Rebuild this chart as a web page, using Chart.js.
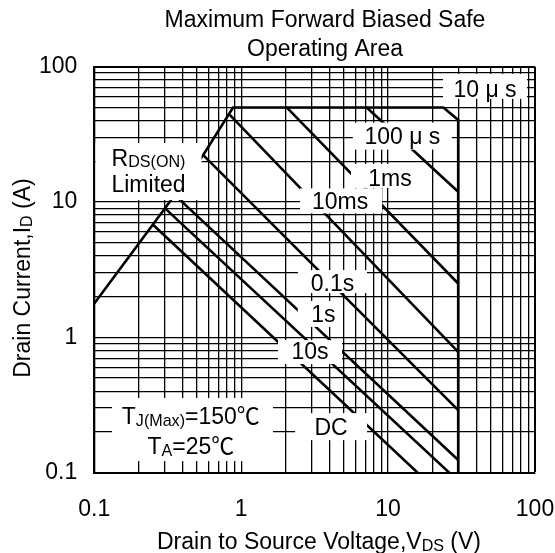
<!DOCTYPE html>
<html>
<head>
<meta charset="utf-8">
<script src="https://cdn.jsdelivr.net/npm/chart.js@4.4.1/dist/chart.umd.min.js"></script>
<style>
  html, body { margin: 0; padding: 0; background: #fff; }
  #wrap { width: 555px; height: 553px; }
</style>
</head>
<body>
<div id="wrap"><canvas id="soa" width="555" height="553"></canvas></div>
<script>
"use strict";

// Grid lines of both log axes (0.1 .. 100)
const gridValues = [0.1, 0.2, 0.3, 0.4, 0.5, 0.6, 0.7, 0.8, 0.9,
  1, 2, 3, 4, 5, 6, 7, 8, 9,
  10, 20, 30, 40, 50, 60, 70, 80, 90, 100];
const decadeValues = [0.1, 1, 10, 100];
const decadeLabels = ["0.1", "1", "10", "100"];

// Outer limit: RDS(on) line, 50 A ceiling, 10 us corner, 30 V wall
const limitV = [0.1, 0.31, 0.55, 0.88, 23.8, 30, 30];
const limitI = [1.78, 9.3, 22.2, 50, 50, 40.4, 0.1];

// Pulse lines (VDS in V, ID in A)
const us100V = [7.15, 30];
const us100I = [50, 11.9];
const ms1V = [2.04, 30];
const ms1I = [50, 2.5];
const ms10V = [0.83, 30];
const ms10I = [44.4, 0.78];
const s01V = [0.552, 30];
const s01I = [22.2, 0.29];
const s1V = [0.355, 30];
const s1I = [11.2, 0.124];
const s10V = [0.303, 26.1];
const s10I = [8.98, 0.1];
const dcV = [0.252, 15.9];
const dcI = [6.76, 0.1];

const series = [
  [limitV, limitI],
  [us100V, us100I],
  [ms1V, ms1I],
  [ms10V, ms10I],
  [s01V, s01I],
  [s1V, s1I],
  [s10V, s10I],
  [dcV, dcI],
];

const FONT = "'Liberation Sans', Arial, 'Noto Sans CJK JP', sans-serif";
const CJK_FONT = "'Noto Sans CJK JP', 'Liberation Sans', sans-serif";

// Labels on white boxes: anchor in data units, box = [w, h, dx, dy] in px
const notes = [
  { text: ["10 μ s"], at: [45.7, 69.2], box: [84, 25, 0, -2] },
  { text: ["100 μ s"], at: [12.5, 30.7], box: [99, 27, 0, 0] },
  { text: ["1ms"], at: [10.3, 15.2], box: [65, 24, -6.5, -1.5] },
  { text: ["10ms"], at: [4.71, 10.2], box: [82, 25, 1, 0] },
  { text: ["R_{DS(ON)}", "Limited"], at: [0.234, 21.3], gap: 26, box: [106, 57, 0, 14] },
  { text: ["0.1s"], at: [4.18, 2.54], box: [69, 23, 0, -1] },
  { text: ["1s"], at: [3.62, 1.49], box: [45, 26, -3, 0] },
  { text: ["10s"], at: [2.94, 0.792], box: [64, 24, 0, 1] },
  { text: ["DC"], at: [4.09, 0.219], box: [72, 27, 0, 0] },
  { text: ["T_{J(Max)}=150℃", "T_{A}=25℃"], at: [0.454, 0.262], gap: 30, box: [161, 63, 1.7, 13.5] },
];

// Split "T_{A}=25℃" into normal / subscript / CJK runs
function parseRuns(str) {
  const runs = [];
  str.split(/_\{([^}]*)\}/).forEach((t, i) => {
    if (i % 2 === 1) {
      runs.push({ t: t, sub: true });
      return;
    }
    t.split(/(℃)/).forEach((p) => {
      if (p !== "") runs.push({ t: p, sub: false, cjk: p === "℃" });
    });
  });
  return runs.filter((r) => r.t !== "");
}

function runFont(r, size) {
  if (r.cjk) return size + "px " + CJK_FONT;
  return (r.sub ? size * 0.7 : size) + "px " + FONT;
}

// Draw text with subscripts, centred on (cx, cy) at cap height
function drawRich(ctx, str, cx, cy, size) {
  const runs = parseRuns(str);
  let total = 0;
  for (const r of runs) {
    ctx.font = runFont(r, size);
    total += ctx.measureText(r.t).width;
  }
  let x = cx - total / 2;
  const base = cy + size * 0.358;
  ctx.textAlign = "left";
  ctx.textBaseline = "alphabetic";
  for (const r of runs) {
    ctx.font = runFont(r, size);
    ctx.fillText(r.t, x, r.sub ? base + size * 0.07 : base);
    x += ctx.measureText(r.t).width;
  }
}

const textPlugin = {
  id: "soaText",
  afterDatasetsDraw(chart) {
    const ctx = chart.ctx;
    const xs = chart.scales.x;
    const ys = chart.scales.y;
    ctx.save();
    ctx.fillStyle = "#000";

    // Boxed labels inside the plot
    for (const n of notes) {
      const cx = xs.getPixelForValue(n.at[0]);
      const cy = ys.getPixelForValue(n.at[1]);
      const [w, h, dx, dy] = n.box;
      ctx.fillStyle = "#fff";
      ctx.fillRect(cx + dx - w / 2, cy + dy - h / 2, w, h);
      ctx.fillStyle = "#000";
      n.text.forEach((line, i) => drawRich(ctx, line, cx, cy + i * (n.gap || 0), 23));
    }

    // Chart title
    drawRich(ctx, "Maximum Forward Biased Safe", 325, 18.7, 23);
    drawRich(ctx, "Operating Area", 325, 48, 23);

    // Axis titles
    drawRich(ctx, "Drain to Source Voltage,V_{DS} (V)", 319, 541, 23);
    ctx.translate(22, 278);
    ctx.rotate(-Math.PI / 2);
    drawRich(ctx, "Drain Current,I_{D} (A)", 0, 0, 23);
    ctx.restore();
  },
};

function setGridTicks(axis) {
  axis.ticks = gridValues.map((v) => ({ value: v }));
}

function tickText(value) {
  const k = decadeValues.indexOf(value);
  return k >= 0 ? decadeLabels[k] : "";
}

function edgeWidth(c) {
  return c.tick && c.tick.value === 100 ? 2 : 1.3;
}

const ctx = document.getElementById("soa").getContext("2d");
new Chart(ctx, {
  type: "scatter",
  data: {
    datasets: series.map(([v, i]) => ({
      data: v.map((x, k) => ({ x: x, y: i[k] })),
      showLine: true,
      borderColor: "#000",
      borderWidth: 2.6,
      borderJoinStyle: "miter",
      pointRadius: 0,
      pointHoverRadius: 0,
      fill: false,
      tension: 0,
    })),
  },
  options: {
    responsive: false,
    animation: false,
    events: [],
    layout: { padding: { left: 0, right: 0, top: 66.7, bottom: 0 } },
    plugins: {
      legend: { display: false },
      tooltip: { enabled: false },
      title: { display: false },
    },
    scales: {
      x: {
        type: "logarithmic",
        min: 0.1,
        max: 100,
        afterBuildTicks: setGridTicks,
        afterFit(axis) {
          axis.height = 80.3;
          axis.paddingLeft = 0;
          axis.paddingRight = 20;
        },
        grid: { color: "#000", lineWidth: edgeWidth, drawTicks: false },
        border: { display: true, color: "#000", width: 2 },
        ticks: {
          autoSkip: false,
          maxRotation: 0,
          padding: 23,
          color: "#000",
          font: { family: FONT, size: 23 },
          callback: tickText,
        },
      },
      y: {
        type: "logarithmic",
        min: 0.1,
        max: 100,
        afterBuildTicks: setGridTicks,
        afterFit(axis) {
          axis.width = 94.3;
          axis.paddingTop = 0;
          axis.paddingBottom = 0;
        },
        grid: { color: "#000", lineWidth: edgeWidth, drawTicks: false },
        border: { display: true, color: "#000", width: 2 },
        ticks: {
          autoSkip: false,
          padding: 17,
          color: "#000",
          font: { family: FONT, size: 23 },
          callback: tickText,
        },
      },
    },
  },
  plugins: [textPlugin],
});
</script>
</body>
</html>
